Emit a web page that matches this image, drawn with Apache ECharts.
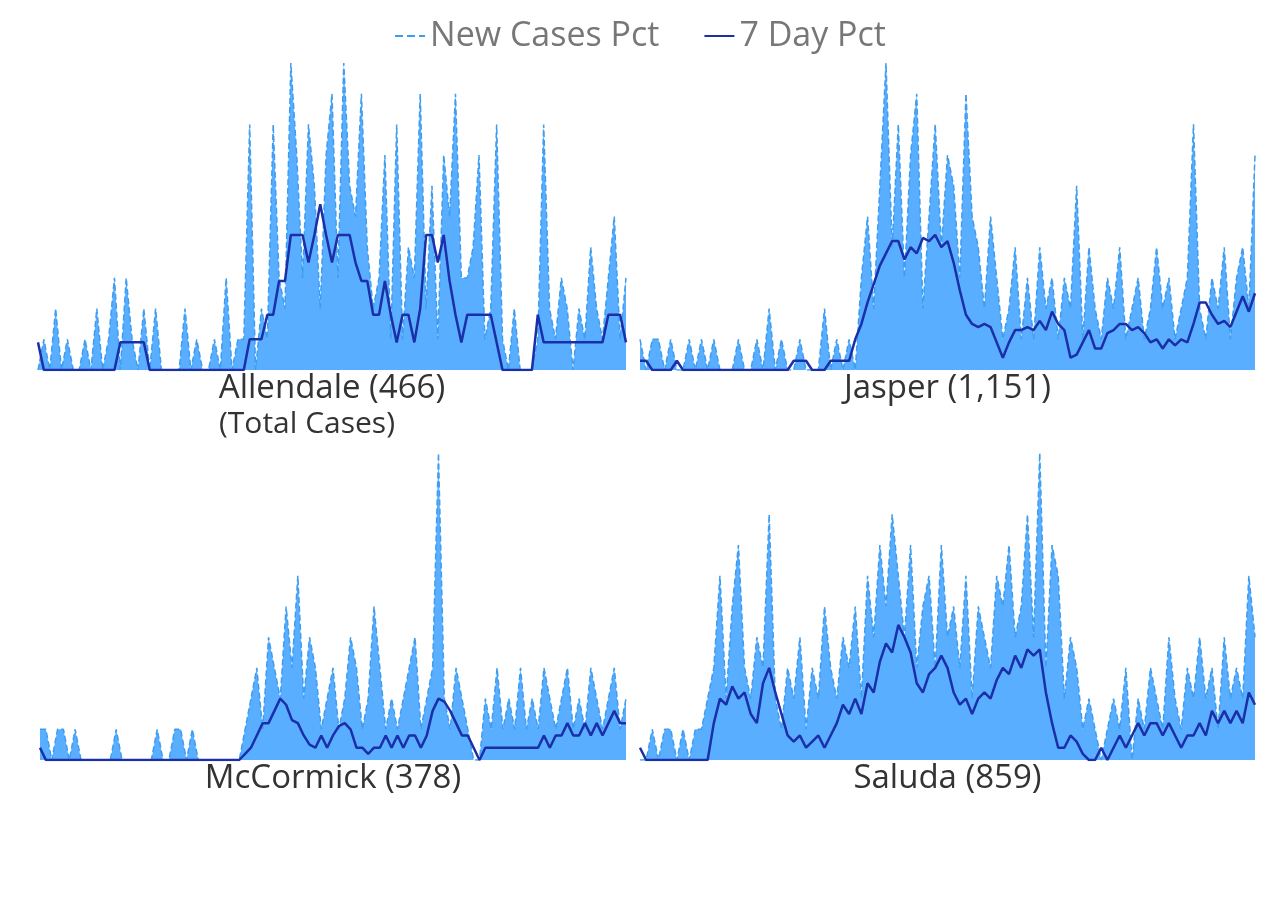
<!DOCTYPE html>
<html>
<head>
<meta charset="UTF-8">
<title></title>
<script src="https://cdn.jsdelivr.net/npm/echarts@6/dist/echarts.min.js"></script>
</head>
<body style="margin:0">
<div id="box" style="width:1280px;height:900px;"></div>
<script>
// panel names, total cases and daily values (rough reads off the picture)
const panels = ['Allendale (466)', 'Jasper (1,151)', 'McCormick (378)', 'Saluda (859)'];

const allendaleNew = [0,1,0,2,0,1,0,0,1,0,2,0,1,3,0,3,1,0,2,0,2,0,0,0,0,2,0,1,0,0,1,0,3,0,1,1,
  8,0,2,1,8,3,2,10,7,3,8,6,2,7,9,3,10,6,5,9,4,2,3,7,1,8,1,4,3,9,2,6,1,7,5,9,3,3,4,7,1,2,8,1,0,2,0,0,0,1,8,2,1,3,2,0,2,1,4,2,1,3,5,1,3];
const allendale7 = [0.9,0,0,0,0,0,0,0,0,0,0,0,0,0,0.9,0.9,0.9,0.9,0.9,0,0,0,0,0,0,0,0,0,0,0,0,0,0,0,0,0,
  1,1,1,1.8,1.8,2.9,2.9,4.4,4.4,4.4,3.5,4.4,5.4,4.4,3.5,4.4,4.4,4.4,3.5,2.9,2.9,1.8,1.8,2.9,1.8,0.9,1.8,1.8,0.9,2,
  4.4,4.4,3.5,4.4,2.9,1.8,0.9,1.8,1.8,1.8,1.8,1.8,0.9,0,0,0,0,0,0,1.8,0.9,0.9,0.9,0.9,0.9,0.9,0.9,0.9,0.9,0.9,0.9,1.8,1.8,1.8,0.9];

const jasperNew = [1,0,1,1,0,1,0,0,1,0,1,0,1,0,0,0,1,0,0,1,0,2,0,1,0,0,1,0,0,0,2,0,1,0,1,0,
  3,5,2,6,10,4,8,3,7,9,2,5,8,4,7,6,3,9,5,4,2,5,3,1,2,4,1,3,1,4,2,3,1,3,2,6,1,4,2,1,3,2,4,1,2,3,1,2,4,2,3,1,2,3,8,2,1,3,2,4,1,3,4,2,7];
const jasper7 = [0.3,0.3,0,0,0,0,0.3,0,0,0,0,0,0,0,0,0,0,0,0,0,0,0,0,0,0,0.3,0.3,0.3,0,0,0,0.3,0.3,0.3,0.3,
  1,1.5,2.2,2.8,3.4,3.8,4.2,4.2,3.6,4.0,3.8,4.3,4.2,4.4,4.0,4.2,3.5,2.6,1.8,1.5,1.4,1.5,1.4,0.9,0.4,0.9,1.3,1.3,1.4,1.3,1.6,
  1.3,1.9,1.5,1.3,0.4,0.5,0.9,1.3,0.7,0.7,1.2,1.3,1.5,1.5,1.3,1.4,1.2,0.9,1.0,0.7,1.0,0.8,1.0,0.9,1.5,2.2,2.2,1.8,1.5,1.6,1.4,1.9,2.4,1.9,2.5];

const mccormickNew = [1,1,0,1,1,0,1,0,0,0,0,0,0,1,0,0,0,0,0,0,1,0,0,1,1,0,1,0,0,0,0,0,0,0,0,
  1,2,3,1,4,3,2,5,3,6,2,4,3,1,2,3,1,2,4,3,
  1,2,5,3,1,2,1,2,3,4,1,2,3,10,2,1,3,2,1,0,
  0,2,1,3,1,2,1,3,1,2,1,3,2,1,2,3,1,2,1,3,2,1,2,3,1,2];
const mccormick7 = [0.4,0,0,0,0,0,0,0,0,0,0,0,0,0,0,0,0,0,0,0,0,0,0,0,0,0,0,0,0,0,0,0,0,0,0,
  0.2,0.4,0.8,1.2,1.2,1.6,2.0,1.8,1.3,1.2,0.8,0.5,0.4,0.8,0.4,0.8,1.1,1.2,1.0,0.4,0.4,0.2,0.4,0.4,0.8,0.4,0.8,0.4,0.8,0.8,0.4,0.8,
  1.6,2.0,1.9,1.6,1.2,0.8,0.8,0.4,0,0.4,0.4,0.4,0.4,0.4,0.4,0.4,0.4,0.4,0.4,0.8,0.4,0.8,0.8,1.2,0.8,0.8,1.2,0.8,1.2,0.8,1.2,1.6,1.2,1.2];

const saludaNew = [0,0,1,0,1,1,0,1,0,1,1,2,
  3,6,2,5,7,3,2,4,3,8,2,1,3,2,4,1,3,2,5,3,2,4,3,5,2,6,4,7,5,8,6,4,7,3,5,6,3,7,4,5,
  3,6,2,5,4,3,6,5,7,4,5,8,4,10,3,7,6,2,4,3,1,2,1,0,1,2,1,3,0,2,1,3,2,1,4,2,1,3,2,4,2,3,1,4,2,3,2,6,4];
const saluda7 = [0.4,0,0,0,0,0,0,0,0,0,0,0,
  1.2,2,1.8,2.4,2,2.2,1.5,1.2,2.5,3,2.2,1.5,0.8,0.6,0.8,0.4,0.6,0.8,0.4,0.8,1.2,1.8,1.5,2,1.5,2.5,2.2,3.2,3.8,3.5,4.4,4.0,3.5,
  2.5,2.2,2.8,3.0,3.4,3.0,2.2,1.8,2.0,1.5,2.0,2.2,2.0,2.6,3.0,2.8,3.4,3.0,3.6,3.4,3.6,2.2,1.2,0.4,0.4,0.8,0.6,0.2,0,0,0.4,0,
  0.4,0.8,0.4,0.8,1.2,0.8,1.2,1.2,0.8,1.2,0.8,0.4,0.8,0.8,1.2,0.8,1.6,1.2,1.6,1.2,1.6,1.2,2.2,1.8];

const newSets = [allendaleNew, jasperNew, mccormickNew, saludaNew];
const avgSets = [allendale7, jasper7, mccormick7, saluda7];

const boxes = [
  {left: 38, top: 63, width: 588, height: 307},
  {left: 640, top: 63, width: 615, height: 307},
  {left: 40, top: 453, width: 586, height: 307},
  {left: 640, top: 453, width: 615, height: 307}
];

const grid = [], xAxis = [], yAxis = [], series = [], graphic = [];
boxes.forEach(function (b, k) {
  grid.push(b);
  xAxis.push({type: 'category', gridIndex: k, show: false, boundaryGap: false,
    data: newSets[k].map(function (v, i) { return i; })});
  yAxis.push({type: 'value', gridIndex: k, show: false, min: 0, max: 10});
  series.push({
    name: 'New Cases Pct', type: 'line', xAxisIndex: k, yAxisIndex: k,
    data: newSets[k], symbol: 'none',
    lineStyle: {color: '#3d9df0', width: 1.5, type: 'dashed'},
    itemStyle: {color: '#3d9df0'},
    areaStyle: {color: '#5aaeff', opacity: 1}
  });
  series.push({
    name: '7 Day Pct', type: 'line', xAxisIndex: k, yAxisIndex: k,
    data: avgSets[k], symbol: 'none',
    lineStyle: {color: '#1a2fa8', width: 2.5},
    itemStyle: {color: '#1a2fa8'}
  });
  graphic.push({
    type: 'text', x: b.left + b.width / 2, y: b.top + b.height + 2,
    style: {text: panels[k], font: '33px "Open Sans"', fill: '#333', textAlign: 'center'}
  });
});
graphic.push({
  type: 'text', x: 307, y: 409,
  style: {text: '(Total Cases)', font: '30px "Open Sans"', fill: '#333', textAlign: 'center'}
});

const chart = echarts.init(document.getElementById('box'));
chart.setOption({
  animation: false,
  legend: {
    top: 14, left: 'center', itemGap: 44, itemWidth: 30,
    itemStyle: {opacity: 0},
    textStyle: {fontSize: 34, color: '#777', fontFamily: 'Open Sans'},
    data: ['New Cases Pct', '7 Day Pct']
  },
  grid: grid, xAxis: xAxis, yAxis: yAxis, series: series, graphic: graphic
});
</script>
</body>
</html>
